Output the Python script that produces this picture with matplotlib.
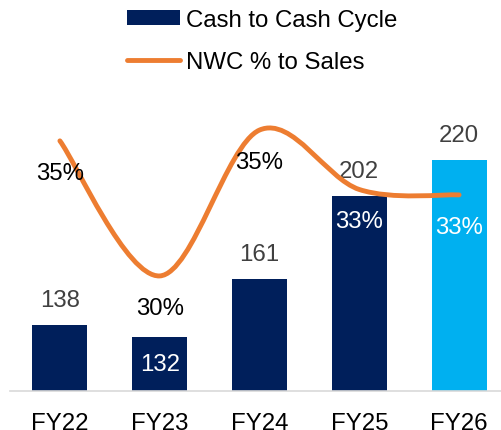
import matplotlib.pyplot as plt
import numpy as np
from matplotlib.path import Path
from matplotlib.patches import PathPatch, Patch
from matplotlib.lines import Line2D

years = ["FY22", "FY23", "FY24", "FY25", "FY26"]
ccc_days = [138, 132, 161, 202, 220]
nwc_pct = [35.0, 30.0, 35.4, 33.2, 33.0]
nwc_labels = ["35%", "30%", "35%", "33%", "33%"]

navy = "#001F5B"
light_blue = "#00B0F0"
orange = "#ED7D31"
grey_txt = "#404040"

plt.rcParams['font.family'] = ['Liberation Sans', 'DejaVu Sans']
fs = 17.3

fig = plt.figure(figsize=(5.01, 4.31), dpi=100)
fig.patch.set_facecolor('white')
ax = fig.add_axes([10 / 501, 39 / 431, 491 / 501, 292 / 431])
x = np.arange(len(years))

bar_colors = [navy] * 4 + [light_blue]
bars = ax.bar(x, ccc_days, width=0.55, color=bar_colors, zorder=2)
ax.set_xlim(-0.5, 4.42)
ax.set_ylim(105.4, 250)

for i, v in enumerate(ccc_days):
    if i == 1:
        ax.text(i, (105.4 + v) / 2, str(v), ha='center', va='center',
                color='white', fontsize=fs, zorder=5)
    else:
        ax.annotate(str(v), (i, v), xytext=(0, 18), textcoords='offset points',
                    ha='center', va='center', color=grey_txt, fontsize=fs, zorder=5)

ax.set_xticks(x)
ax.set_xticklabels(years, fontsize=fs)
ax.tick_params(axis='x', length=0, pad=15)
ax.set_yticks([])
for s in ['top', 'left', 'right']:
    ax.spines[s].set_visible(False)
ax.spines['bottom'].set_color('#D9D9D9')
ax.spines['bottom'].set_linewidth(1.2)

# smoothed line (secondary axis)
ax2 = ax.twinx()
ax2.set_ylim(25.74, 36.55)
ax2.set_yticks([])
for s in ax2.spines.values():
    s.set_visible(False)

pts = np.column_stack([x, nwc_pct]).astype(float)
ext = np.vstack([pts[0], pts, pts[-1]])
verts = [tuple(pts[0])]
codes = [Path.MOVETO]
for i in range(len(pts) - 1):
    p0, p1, p2, p3 = ext[i], ext[i + 1], ext[i + 2], ext[i + 3]
    c1 = p1 + (p2 - p0) / 6
    c2 = p2 - (p3 - p1) / 6
    verts += [tuple(c1), tuple(c2), tuple(p2)]
    codes += [Path.CURVE4] * 3
curve = PathPatch(Path(verts, codes), facecolor='none', edgecolor=orange,
                  lw=3.5, capstyle='round', joinstyle='round', zorder=3)
ax2.add_patch(curve)

for i, (v, lab) in enumerate(zip(nwc_pct, nwc_labels)):
    col = 'white' if i >= 3 else 'black'
    ax2.annotate(lab, (i, v), xytext=(0, -23), textcoords='offset points',
                 ha='center', va='center', color=col, fontsize=fs, zorder=6)

handles = [Patch(facecolor=navy, edgecolor='none'),
           Line2D([0], [0], color=orange, lw=3.5, solid_capstyle='round')]
fig.legend(handles, ["Cash to Cash Cycle", "NWC % to Sales"],
           loc='upper left', bbox_to_anchor=(127 / 501, 1 - 10 / 431),
           frameon=False, fontsize=fs, borderpad=0, borderaxespad=0,
           handlelength=2.2, handleheight=0.55, handletextpad=0.25,
           labelspacing=0.84)

fig.savefig("out.png", dpi=100, facecolor='white')
